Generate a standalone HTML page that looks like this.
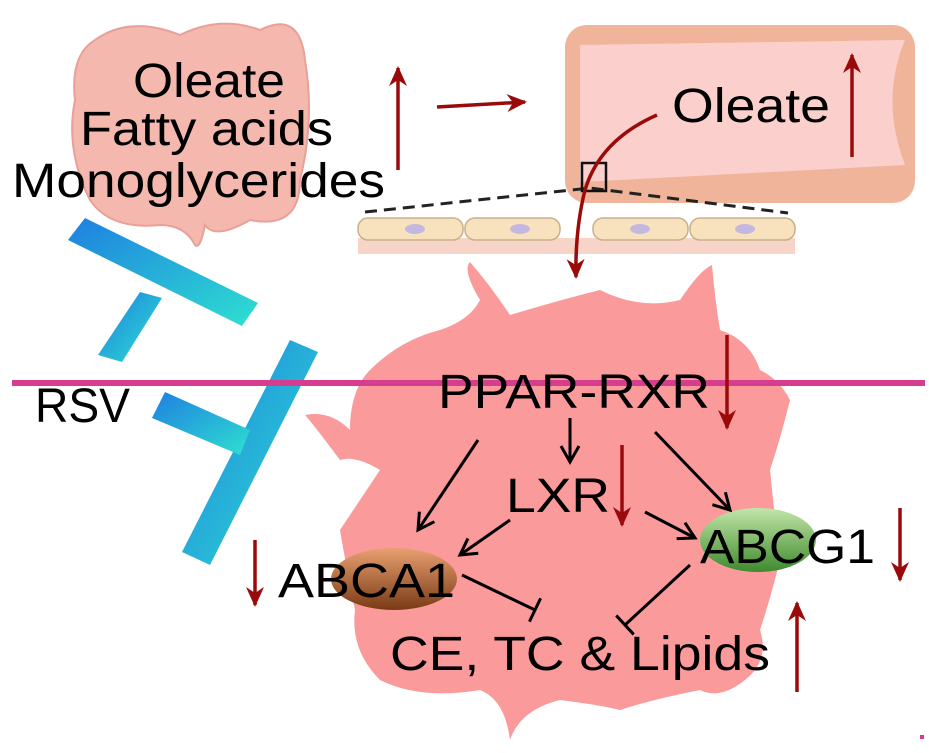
<!DOCTYPE html>
<html><head><style>html,body{margin:0;padding:0;background:#fff}svg{display:block}text{font-family:"Liberation Sans",sans-serif;fill:#000}</style></head>
<body>
<svg width="929" height="753" viewBox="0 0 929 753" xmlns="http://www.w3.org/2000/svg">
<defs>
<marker id="rhb" markerWidth="22" markerHeight="22" refX="18" refY="11" orient="auto" markerUnits="userSpaceOnUse"><path d="M0,2 L20,11 L0,20 L6,11 Z" fill="#9b0a0a"/></marker>
<marker id="bh" markerWidth="22" markerHeight="22" refX="18" refY="11" orient="auto" markerUnits="userSpaceOnUse"><path d="M2,2 L18,11 L2,20" fill="none" stroke="#000" stroke-width="3"/></marker>
<marker id="tb" markerWidth="4" markerHeight="26" refX="2" refY="13" orient="auto" markerUnits="userSpaceOnUse"><path d="M2,0 L2,26" stroke="#000" stroke-width="3"/></marker>
<linearGradient id="bl" x1="0" y1="0" x2="1" y2="1"><stop offset="0" stop-color="#1e7fe0"/><stop offset="1" stop-color="#2ee0d0"/></linearGradient>
<linearGradient id="br" x1="0" y1="0" x2="0" y2="1"><stop offset="0" stop-color="#e8a070"/><stop offset="1" stop-color="#7a3a15"/></linearGradient>
<linearGradient id="gr" x1="0" y1="0" x2="0" y2="1"><stop offset="0" stop-color="#c2e6a8"/><stop offset="1" stop-color="#3f8a2e"/></linearGradient>
</defs>
<path d="M95,40 Q130,15 180,35 Q220,15 260,30 Q300,10 305,60 Q315,120 300,180 Q300,230 250,220 Q215,240 205,225 Q200,250 195,245 Q185,225 160,225 Q110,230 90,200 Q65,150 75,100 Q70,55 95,40 Z" fill="#f4b8ae" stroke="#e8a098" stroke-width="2"/>
<rect x="565" y="25" width="350" height="178" rx="22" fill="#f0b49a"/>
<path d="M580,45 L905,40 Q880,100 905,165 L580,182 Z" fill="#fbd0cc"/>
<rect x="358" y="238" width="437" height="16" fill="#f6d4c8"/>
<g fill="#f8e2bd" stroke="#c9b08a" stroke-width="1.5">
<rect x="358" y="218" width="105" height="22" rx="10"/><rect x="465" y="218" width="95" height="22" rx="10"/>
<rect x="593" y="218" width="95" height="22" rx="10"/><rect x="690" y="218" width="105" height="22" rx="10"/></g>
<g fill="#c4b8e0"><ellipse cx="415" cy="229" rx="10" ry="5"/><ellipse cx="520" cy="229" rx="10" ry="5"/><ellipse cx="640" cy="229" rx="10" ry="5"/><ellipse cx="745" cy="229" rx="10" ry="5"/></g>
<path d="M365,212 L590,188 L788,213" fill="none" stroke="#222" stroke-width="3" stroke-dasharray="12,7"/>
<rect x="582" y="163" width="24" height="28" fill="none" stroke="#111" stroke-width="2.5"/>
<path d="M480,300 Q462,270 470,262 Q490,285 510,315 Q560,300 600,290 Q640,310 680,300 Q700,270 712,265 Q715,300 720,330 Q750,340 760,370 Q780,380 790,400 Q780,440 770,470 Q775,520 780,560 Q770,600 760,630 Q770,660 745,680 Q720,700 700,690 Q650,700 620,710 Q600,705 560,700 Q520,710 510,740 Q505,700 480,690 Q420,700 380,680 Q350,650 355,610 Q345,560 340,530 Q360,500 380,470 Q355,455 340,460 Q310,420 305,415 Q330,410 350,430 Q350,390 370,370 Q400,340 440,330 Q470,320 480,300 Z" fill="#fa9a9a"/>
<g fill="url(#bl)">
<polygon points="68,240 85,218 258,303 242,326"/>
<polygon points="140,292 162,298 122,362 98,355"/>
<polygon points="290,340 318,352 210,565 182,552"/>
<polygon points="165,392 152,418 240,455 250,430"/>
</g>
<rect x="12" y="380" width="913" height="6" fill="#d63d8f"/>
<rect x="920" y="735" width="4" height="4" fill="#d63d8f"/>
<g font-size="48" lengthAdjust="spacingAndGlyphs">
<text x="133" y="97" textLength="152" lengthAdjust="spacingAndGlyphs">Oleate</text>
<text x="80" y="145" textLength="253" lengthAdjust="spacingAndGlyphs">Fatty acids</text>
<text x="12" y="197" textLength="373" lengthAdjust="spacingAndGlyphs">Monoglycerides</text>
<text x="672" y="122" textLength="158" lengthAdjust="spacingAndGlyphs">Oleate</text>
<text x="35" y="422" textLength="95" lengthAdjust="spacingAndGlyphs">RSV</text>
<text x="438" y="408" textLength="272" lengthAdjust="spacingAndGlyphs">PPAR-RXR</text>
<text x="506" y="512" textLength="104" lengthAdjust="spacingAndGlyphs">LXR</text>
</g>
<ellipse cx="394" cy="579" rx="63" ry="31" fill="url(#br)"/>
<ellipse cx="758" cy="540" rx="58" ry="32" fill="url(#gr)"/>
<g font-size="48">
<text x="278" y="597" textLength="177" lengthAdjust="spacingAndGlyphs">ABCA1</text>
<text x="700" y="563" textLength="175" lengthAdjust="spacingAndGlyphs">ABCG1</text>
<text x="390" y="670" textLength="380" lengthAdjust="spacingAndGlyphs">CE, TC &amp; Lipids</text>
</g>
<g stroke="#000" stroke-width="3" fill="none">
<line x1="570" y1="418" x2="570" y2="462" marker-end="url(#bh)"/>
<line x1="478" y1="440" x2="418" y2="530" marker-end="url(#bh)"/>
<line x1="655" y1="432" x2="730" y2="510" marker-end="url(#bh)"/>
<line x1="510" y1="520" x2="460" y2="555" marker-end="url(#bh)"/>
<line x1="645" y1="512" x2="695" y2="538" marker-end="url(#bh)"/>
<line x1="462" y1="575" x2="535" y2="610" marker-end="url(#tb)"/>
<line x1="690" y1="565" x2="625" y2="625" marker-end="url(#tb)"/>
</g>
<g stroke="#9b0a0a" stroke-width="3.5" fill="none">
<line x1="398" y1="170" x2="398" y2="68" marker-end="url(#rhb)"/>
<line x1="437" y1="107" x2="525" y2="102" marker-end="url(#rhb)"/>
<line x1="852" y1="157" x2="852" y2="55" marker-end="url(#rhb)"/>
<path d="M657,115 Q600,140 585,190 Q575,230 576,277" marker-end="url(#rhb)"/>
<line x1="727" y1="335" x2="727" y2="428" marker-end="url(#rhb)"/>
<line x1="622" y1="445" x2="622" y2="525" marker-end="url(#rhb)"/>
<line x1="255" y1="540" x2="255" y2="605" marker-end="url(#rhb)"/>
<line x1="900" y1="508" x2="900" y2="580" marker-end="url(#rhb)"/>
<line x1="797" y1="692" x2="797" y2="603" marker-end="url(#rhb)"/>
</g>
</svg>
</body></html>
